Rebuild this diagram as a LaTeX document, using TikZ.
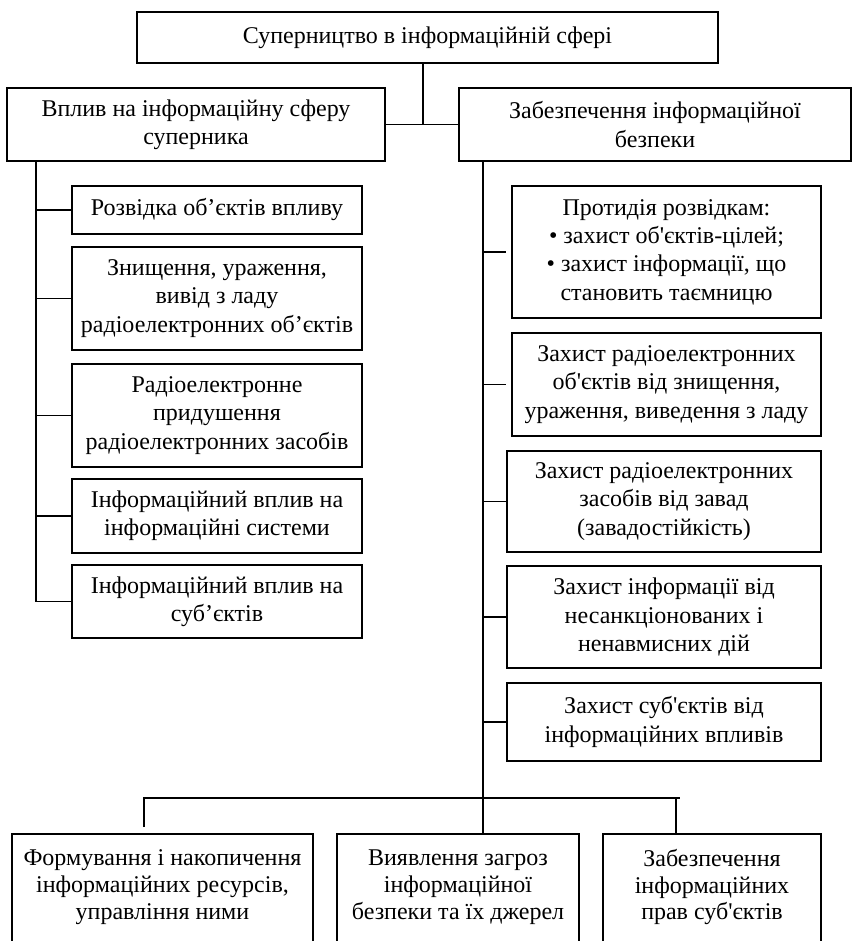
\documentclass[tikz,border=0pt]{standalone}
\usepackage{fontspec}
\setmainfont{Liberation Serif}[Ligatures=TeXOff]
\begin{document}
\begin{tikzpicture}[x=1pt,y=-1pt,
  box/.style={draw, line width=1.2pt, align=center, inner sep=0pt,
    font=\fontsize{24}{28.3}\selectfont},
  txt/.style={align=center, inner sep=0pt, font=\fontsize{24}{26.7}\selectfont},
  link/.style={line width=1.2pt}]
\useasboundingbox (0,0) rectangle (852,941);
\clip (0,0) rectangle (852,941);

% root and the two main branches
\node[box, minimum width=581pt, minimum height=51pt] (top) at (427.5,37.5)
  {Суперництво в інформаційній сфері};
\node[box, minimum width=378pt, minimum height=73pt] (L0) at (196,124.5)
  {Вплив на інформаційну сферу\\суперника};
\node[box, minimum width=392pt, minimum height=73pt] (R0) at (655,124.5)
  {Забезпечення інформаційної\\безпеки};

% influence on the adversary
\node[box, minimum width=290pt, minimum height=48pt] (L1) at (217,210)
  {Розвідка об’єктів впливу};
\node[box, minimum width=290pt, minimum height=103pt] (L2) at (217,298.5)
  {Знищення, ураження,\\вивід з ладу\\радіоелектронних об’єктів};
\node[box, minimum width=290pt, minimum height=103pt] (L3) at (217,415.5)
  {Радіоелектронне\\придушення\\радіоелектронних засобів};
\node[box, minimum width=290pt, minimum height=74pt] (L4) at (217,516)
  {Інформаційний вплив на\\інформаційні системи};
\node[box, minimum width=290pt, minimum height=73pt] (L5) at (217,601.5)
  {Інформаційний вплив на\\суб’єктів};

% information security
\node[box, minimum width=309pt, minimum height=132pt] (R1) at (666.5,252)
  {Протидія розвідкам:\\• захист об'єктів-цілей;\\• захист інформації, що\\становить таємницю};
\node[box, minimum width=309pt, minimum height=103pt] (R2) at (666.5,384.5)
  {Захист радіоелектронних\\об'єктів від знищення,\\ураження, виведення з ладу};
\node[box, minimum width=314pt, minimum height=101pt] (R3) at (664,501.5)
  {Захист радіоелектронних\\засобів від завад\\(завадостійкість)};
\node[box, minimum width=314pt, minimum height=102pt] (R4) at (664,617)
  {Захист інформації від\\несанкціонованих і\\ненавмисних дій};
\node[box, minimum width=314pt, minimum height=78pt] (R5) at (664,722)
  {Захист суб'єктів від\\інформаційних впливів};

% bottom row
\node[box, minimum width=301pt, minimum height=126pt] (B1) at (162.5,897) {};
\node[box, minimum width=242pt, minimum height=126pt] (B2) at (458,897) {};
\node[box, minimum width=218pt, minimum height=126pt] (B3) at (712,897) {};
\node[txt] (B1t) at (162.5,887)
  {Формування і накопичення\\інформаційних ресурсів,\\управління ними};
\node[txt] (B2t) at (458,887)
  {Виявлення загроз\\інформаційної\\безпеки та їх джерел};
\node[txt] (B3t) at (712,887)
  {Забезпечення\\інформаційних\\прав суб'єктів};

% connectors
\coordinate (j) at (423,125);
\coordinate (ls) at (36,161);
\coordinate (rs) at (483,161);
\coordinate (d1) at (144,798);
\coordinate (d1top) at (144,827);
\coordinate (d3) at (676,798);
\coordinate (barend) at (680,798);

\draw[link] (top.south -| j) -- (j);
\draw[link] (L0.east) -- (R0.west);

\draw[link] (L0.south -| ls) |- (L5.west);
\foreach \n in {L1,L2,L3,L4} \draw[link] (ls |- \n.west) -- (\n.west);

\draw[link] (R0.south -| rs) -- (rs |- B2.north);
\draw[link] ([xshift=-27pt]R1.west) -- ([xshift=-5pt]R1.west);
\draw[link] ([xshift=-27pt]R2.west) -- ([xshift=-5pt]R2.west);
\foreach \n in {R3,R4,R5} \draw[link] (rs |- \n.west) -- (\n.west);

\draw[link] (d1top) |- (barend);
\draw[link] (d3) -- (d3 |- B3.north);
\end{tikzpicture}
\end{document}
